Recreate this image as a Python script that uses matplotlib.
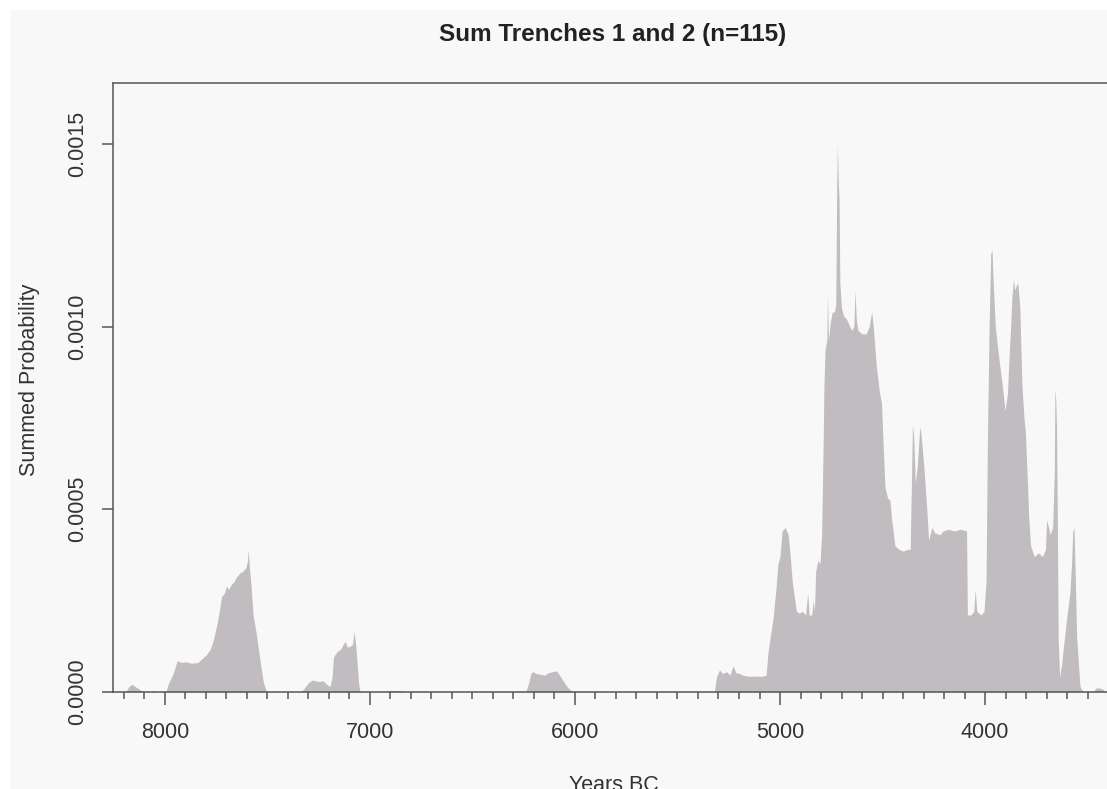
import matplotlib
matplotlib.use("Agg")
import matplotlib.pyplot as plt
from matplotlib.patches import Rectangle

# ---- data (calendar years BC, summed probability) ----
years = [
    8190, 8175, 8160, 8140, 8120, 8100, 8065, 8058, 8050,
    7995, 7985, 7960, 7940, 7920, 7900, 7870, 7840, 7820, 7800, 7780, 7765, 7750,
    7735, 7724, 7710, 7700, 7690, 7675, 7665, 7650, 7635, 7620, 7605, 7597, 7594,
    7588, 7580, 7570, 7555, 7545, 7535, 7520, 7505,
    7335, 7320, 7300, 7280, 7250, 7230, 7210, 7195, 7185, 7178, 7160, 7145, 7130,
    7122, 7110, 7095, 7085, 7078, 7070, 7063, 7055, 7048,
    6920, 6900, 6880, 6860, 6840,
    6240, 6228, 6215, 6205, 6190, 6170, 6150, 6130, 6110, 6090, 6075, 6058, 6040,
    6025, 6010,
    5320, 5310, 5295, 5280, 5260, 5245, 5229, 5215, 5200, 5180, 5150, 5120, 5090,
    5068, 5058, 5045, 5034, 5020, 5010, 5000, 4990, 4975, 4960, 4950, 4940, 4930,
    4920, 4905, 4890, 4875, 4865, 4858, 4845, 4838, 4832, 4826, 4815, 4805, 4797,
    4790, 4786, 4780, 4772, 4768, 4764, 4755, 4745, 4735, 4728, 4723, 4720, 4716,
    4712, 4708, 4700, 4690, 4675, 4660, 4650, 4640, 4634, 4628, 4620, 4600, 4580,
    4565, 4553, 4545, 4530, 4515, 4505, 4495, 4488, 4475, 4464, 4455, 4448, 4440,
    4420, 4400, 4380, 4365, 4358, 4354, 4348, 4340, 4330, 4320, 4316, 4308, 4299,
    4290, 4283, 4275, 4259, 4245, 4220, 4205, 4180, 4150, 4120, 4090, 4086, 4070,
    4055, 4048, 4040, 4020, 4005, 3995, 3988, 3980, 3972, 3966, 3960, 3950, 3934,
    3918, 3902, 3890, 3885, 3875, 3869, 3861, 3855, 3849, 3840, 3830, 3820, 3810,
    3803, 3795, 3787, 3778, 3760, 3740, 3720, 3705, 3700, 3690, 3683, 3670, 3662,
    3659, 3655, 3651, 3647, 3643, 3636, 3625, 3618, 3602, 3586, 3578, 3572, 3566,
    3560, 3553, 3537, 3522,
    3470, 3460, 3440, 3420,
]
prob = [
    0, 0.000015, 0.00002, 0.000012, 0.000005, 0, 0, 0.000005, 0,
    0, 0.00002, 0.00005, 0.000085, 0.00008, 0.000082, 0.000078, 0.00008, 0.00009,
    0.0001, 0.000115, 0.00014, 0.000175,
    0.00022, 0.00026, 0.00027, 0.00029, 0.00028, 0.000295, 0.0003, 0.000315,
    0.000325, 0.00033, 0.00034, 0.00036, 0.00039,
    0.00034, 0.00029, 0.00021, 0.00016, 0.00012, 0.00008, 0.000025, 0,
    0, 0.00001, 0.000025, 0.000032, 0.000028, 0.00003, 0.00002, 0.000014, 0.00004,
    0.000095, 0.00011, 0.000115, 0.00013,
    0.000138, 0.000122, 0.000125, 0.00013, 0.000165, 0.00013, 0.00008, 0.00002, 0,
    0, 0.000004, 0.000002, 0.000004, 0,
    0, 0.00002, 0.00005, 0.000055, 0.00005, 0.000048, 0.000045, 0.000052, 0.000055,
    0.000057, 0.000045, 0.00003, 0.000015, 0.000006, 0,
    0, 0.00004, 0.00006, 0.00005, 0.000055, 0.000045, 0.00007, 0.000052, 0.00005,
    0.000045, 0.000042, 0.000043, 0.000042,
    0.000045, 0.00011, 0.00016, 0.0002, 0.00028, 0.00035, 0.00037, 0.00044, 0.00045,
    0.00043, 0.00037, 0.0003, 0.00026,
    0.00022, 0.000215, 0.00022, 0.00021, 0.00027, 0.00021, 0.00021, 0.00025, 0.00022,
    0.00033, 0.00036, 0.00035, 0.00043,
    0.00066, 0.00083, 0.00094, 0.00096, 0.00109, 0.00096, 0.00101, 0.00104, 0.00104,
    0.00106, 0.0014, 0.0015, 0.0014,
    0.00135, 0.00112, 0.00105, 0.00103, 0.00102, 0.001, 0.00099, 0.001, 0.0011,
    0.00102, 0.00099, 0.00098, 0.00098,
    0.001, 0.00104, 0.001, 0.00089, 0.00082, 0.00079, 0.00065, 0.00056, 0.00053,
    0.000525, 0.00047, 0.00044, 0.0004,
    0.00039, 0.000385, 0.00039, 0.00039, 0.0006, 0.00073, 0.0007, 0.00057, 0.00062,
    0.00071, 0.000726, 0.00068, 0.00062,
    0.00055, 0.00049, 0.000415, 0.00045, 0.000435, 0.00043, 0.00044, 0.000445,
    0.00044, 0.000445, 0.00044, 0.00021, 0.00021,
    0.00022, 0.00028, 0.00022, 0.00021, 0.00022, 0.0003, 0.0007, 0.001, 0.0012,
    0.00121, 0.00112, 0.001, 0.00092,
    0.00085, 0.00077, 0.00082, 0.00089, 0.001, 0.00108, 0.00113, 0.0011, 0.00111,
    0.00112, 0.00105, 0.00084, 0.00075,
    0.00071, 0.0006, 0.00048, 0.0004, 0.00037, 0.00038, 0.00037, 0.00039, 0.00047,
    0.00045, 0.00043, 0.00045, 0.0006,
    0.00083, 0.0008, 0.00072, 0.00045, 0.00014, 0.00004, 0.00008, 0.00012, 0.0002,
    0.00027, 0.00035, 0.00044, 0.00045,
    0.00032, 0.00015, 0.000015, 0,
    0, 0.00001, 0.00001, 0.000005,
]

title = "Sum Trenches 1 and 2 (n=115)"
x_label = "Years BC"
y_label = "Summed Probability"
x_major = [8000, 7000, 6000, 5000, 4000]
x_minor = list(range(8200, 3400, -100))
y_ticks = [0.0, 0.0005, 0.0010, 0.0015]
y_ticklabels = ["0.0000", "0.0005", "0.0010", "0.0015"]

# ---- figure ----
W, H = 1107, 789
fig = plt.figure(figsize=(W / 100, H / 100), dpi=100)
fig.patch.set_facecolor("white")
bg = "#f8f8f8"
fig.patches.append(Rectangle((10 / W, -0.1), 1.2, 1.1 - 10 / H, transform=fig.transFigure,
                             facecolor=bg, edgecolor="none", zorder=-10))

font = "Liberation Sans"
axcol = "#555555"
txtcol = "#333333"

ax = fig.add_axes([113.3 / W, 1 - 691.7 / H, 1 - 113.3 / W, (691.7 - 83.3) / H])
ax.set_facecolor(bg)
ax.fill_between(years, 0, prob, color="#c0bcc0", linewidth=0, zorder=1)

ax.set_xlim(8252, 3405)
ax.set_ylim(0, 0.0016664)

for s in ["left", "top", "bottom"]:
    ax.spines[s].set_color(axcol)
    ax.spines[s].set_linewidth(1.1)
    ax.spines[s].set_zorder(3)
ax.spines["right"].set_visible(False)

ax.set_xticks(x_major)
ax.set_xticklabels([str(v) for v in x_major], fontfamily=font, fontsize=15.5, color=txtcol)
ax.set_xticks(x_minor, minor=True)
ax.tick_params(axis="x", which="major", length=9, width=1.1, color=axcol, pad=13)
ax.tick_params(axis="x", which="minor", length=4.8, width=1.1, color=axcol)

ax.set_yticks(y_ticks)
ax.set_yticklabels(y_ticklabels, fontfamily=font, fontsize=15.5, color=txtcol,
                   rotation=90, va="center")
ax.tick_params(axis="y", which="major", length=8, width=1.1, color=axcol, pad=10)

ax.set_ylabel(y_label, fontfamily=font, fontsize=15.5, color=txtcol)
ax.yaxis.set_label_coords(-0.0738, 0.513)
ax.set_xlabel(x_label, fontfamily=font, fontsize=15.5, color=txtcol)
ax.xaxis.set_label_coords(0.504, -0.137)

fig.text(613 / W, 1 - 41 / H, title, ha="center", va="baseline",
         fontfamily=font, fontsize=17.5, fontweight="bold", color="#222222")

fig.savefig("out.png", dpi=100, facecolor=fig.get_facecolor())
